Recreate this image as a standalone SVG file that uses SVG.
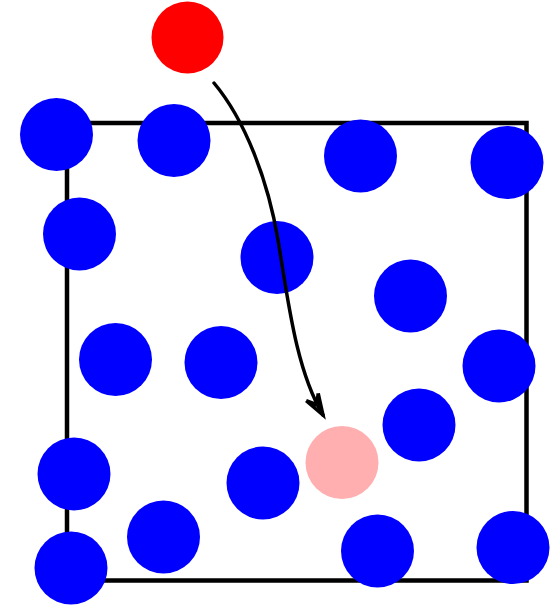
<svg xmlns="http://www.w3.org/2000/svg" width="551" height="606" viewBox="0 0 551 606">
<style>
.blue{fill:#0000ff}
.red{fill:#ff0000}
.pink{fill:#ffafaf}
.box{fill:none;stroke:#000;stroke-width:4.5}
.arrow{fill:none;stroke:#000;stroke-width:3.5;stroke-linecap:round;stroke-linejoin:round}
</style>
<defs>
<marker id="head" markerUnits="userSpaceOnUse" markerWidth="30" markerHeight="30" viewBox="-24 -12 30 24" refX="0" refY="0" orient="auto">
<path d="M-21,-7 L0,0 L-21,7 M-21,-7 L-12,0 L-21,7" fill="none" stroke="#000" stroke-width="3.5" stroke-linejoin="miter"/>
</marker>
</defs>
<rect id="box" class="box" x="67" y="123" width="459.5" height="457.5"/>
<g id="particles">
<g id="p1"><circle class="blue" cx="56.5" cy="134.5" r="36.5"/></g>
<g id="p2"><circle class="blue" cx="174" cy="140.5" r="36.5"/></g>
<g id="p3"><circle class="blue" cx="360.5" cy="156" r="36.5"/></g>
<g id="p4"><circle class="blue" cx="507" cy="162.5" r="36.5"/></g>
<g id="p5"><circle class="blue" cx="79.5" cy="234" r="36.5"/></g>
<g id="p6"><circle class="blue" cx="277" cy="257.5" r="36.5"/></g>
<g id="p7"><circle class="blue" cx="410.5" cy="296" r="36.5"/></g>
<g id="p8"><circle class="blue" cx="115.5" cy="359.5" r="36.5"/></g>
<g id="p9"><circle class="blue" cx="221" cy="362.5" r="36.5"/></g>
<g id="p10"><circle class="blue" cx="499" cy="366" r="36.5"/></g>
<g id="p11"><circle class="blue" cx="419" cy="425" r="36.5"/></g>
<g id="p12"><circle class="blue" cx="74" cy="474" r="36.5"/></g>
<g id="p13"><circle class="blue" cx="263" cy="483" r="36.5"/></g>
<g id="p14"><circle class="blue" cx="163.5" cy="537" r="36.5"/></g>
<g id="p15"><circle class="blue" cx="377.5" cy="551" r="36.5"/></g>
<g id="p16"><circle class="blue" cx="71" cy="568" r="36.5"/></g>
<g id="p17"><circle class="blue" cx="513" cy="547.5" r="36.5"/></g>
<g id="target"><circle class="pink" cx="342" cy="462.5" r="36.5"/></g>
<g id="incoming"><circle class="red" cx="187.5" cy="37.5" r="36"/></g>
</g>
<g id="connectors">
<path class="arrow" d="M214,83 C245,120 268,180 278,240 C288,300 296,370 323,415" marker-end="url(#head)"/>
</g>
</svg>
